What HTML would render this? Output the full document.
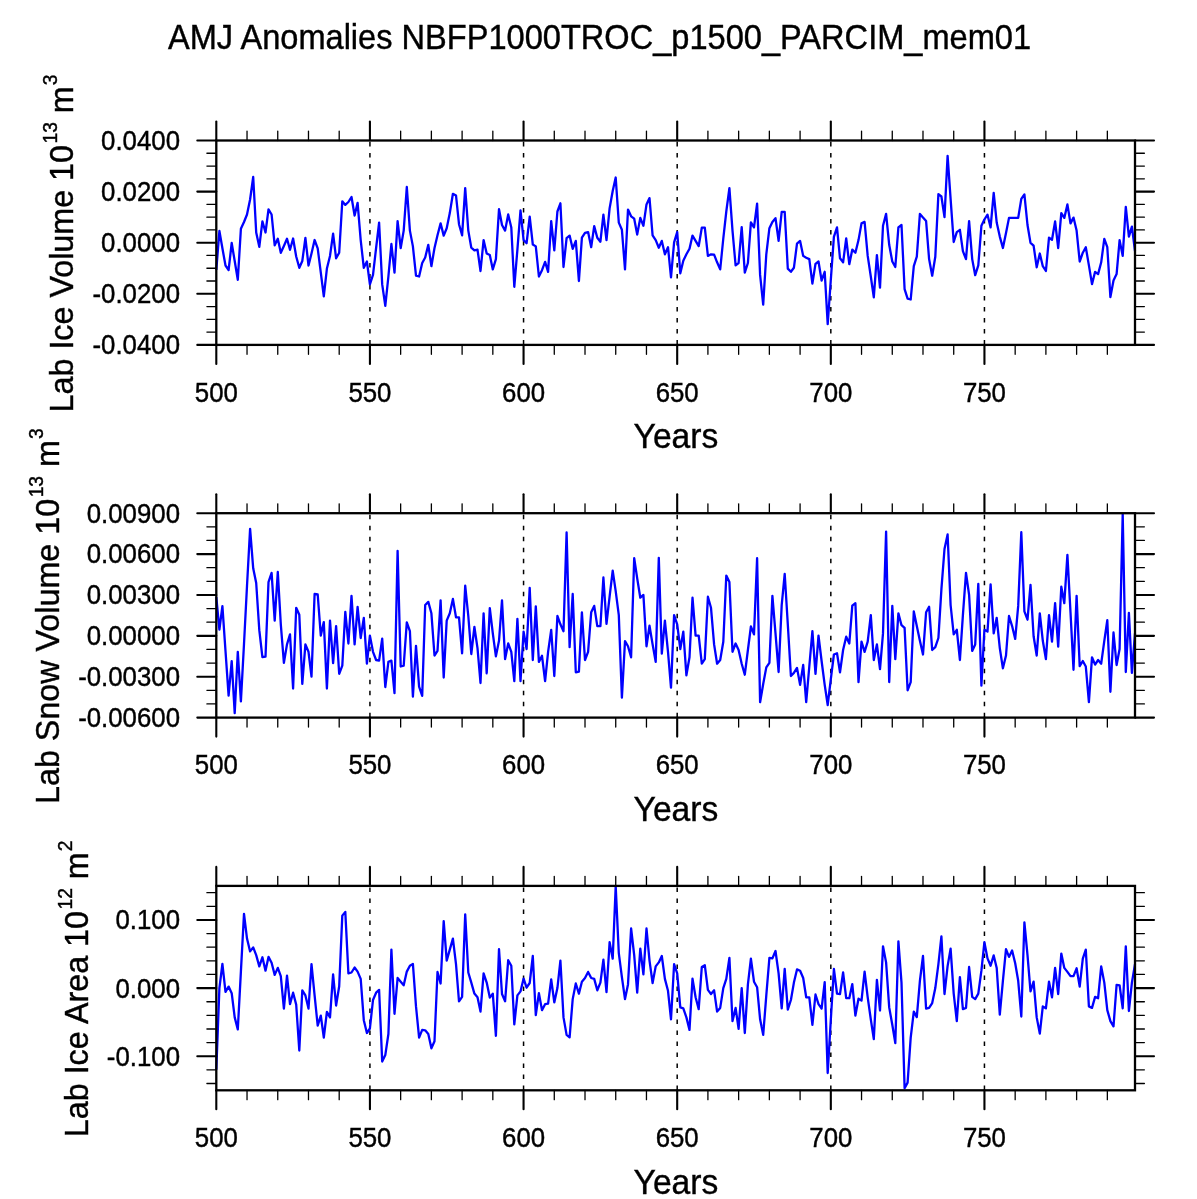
<!DOCTYPE html><html><head><meta charset="utf-8"><style>html,body{margin:0;padding:0;background:#fff;}svg{display:block;will-change:transform;}text{font-family:"Liberation Sans",sans-serif;fill:#000;stroke:#000;stroke-width:0.4px;}</style></head><body>
<svg width="1197" height="1199" viewBox="0 0 1197 1199">
<text transform="translate(168.0,48.8) scale(1,1.067)" font-size="32.59">AMJ Anomalies NBFP1000TROC_p1500_PARCIM_mem01</text>
<g><line x1="369.93" y1="142.00" x2="369.93" y2="344.90" stroke="#000" stroke-width="1.5" stroke-dasharray="4.6 6.4"/><line x1="523.56" y1="142.00" x2="523.56" y2="344.90" stroke="#000" stroke-width="1.5" stroke-dasharray="4.6 6.4"/><line x1="677.19" y1="142.00" x2="677.19" y2="344.90" stroke="#000" stroke-width="1.5" stroke-dasharray="4.6 6.4"/><line x1="830.82" y1="142.00" x2="830.82" y2="344.90" stroke="#000" stroke-width="1.5" stroke-dasharray="4.6 6.4"/><line x1="984.44" y1="142.00" x2="984.44" y2="344.90" stroke="#000" stroke-width="1.5" stroke-dasharray="4.6 6.4"/><polyline points="216.3,270.0 219.4,231.0 222.4,248.3 225.5,265.5 228.6,270.0 231.7,243.0 234.7,261.0 237.8,279.8 240.9,228.8 244.0,222.0 247.0,214.5 250.1,199.5 253.2,177.0 256.2,232.5 259.3,246.8 262.4,221.3 265.5,232.5 268.5,209.3 271.6,214.5 274.7,245.3 277.8,238.8 280.8,252.8 283.9,246.0 287.0,238.8 290.0,249.8 293.1,238.5 296.2,256.5 299.3,267.8 302.3,261.0 305.4,237.8 308.5,265.5 311.5,253.5 314.6,240.0 317.7,248.3 320.8,272.6 323.8,296.3 326.9,268.6 330.0,255.9 333.1,233.7 336.1,258.3 339.2,252.7 342.3,201.3 345.3,204.9 348.4,202.0 351.5,197.0 354.6,215.5 357.6,202.8 360.7,240.1 363.8,267.8 366.9,261.5 369.9,284.4 373.0,274.9 376.1,248.0 379.1,222.6 382.2,284.4 385.3,305.8 388.4,276.5 391.4,244.0 394.5,272.6 397.6,221.1 400.7,248.0 403.7,230.6 406.8,187.0 409.9,230.6 412.9,246.4 416.0,275.7 419.1,276.5 422.2,263.0 425.2,257.5 428.3,244.8 431.4,266.2 434.5,248.0 437.5,235.3 440.6,223.4 443.7,235.6 446.7,228.2 449.8,213.1 452.9,193.8 456.0,195.4 459.0,224.2 462.1,235.3 465.2,188.1 468.3,230.6 471.3,247.7 474.4,250.4 477.5,249.6 480.5,271.0 483.6,240.1 486.7,253.5 489.8,255.1 492.8,269.4 495.9,259.1 499.0,209.2 502.0,225.0 505.1,230.6 508.2,214.4 511.3,227.4 514.3,286.8 517.4,249.6 520.5,210.3 523.6,240.1 526.6,243.2 529.7,216.6 532.8,244.5 535.8,246.4 538.9,276.5 542.0,270.2 545.1,261.9 548.1,271.8 551.2,221.1 554.3,250.4 557.4,211.5 560.4,203.3 563.5,267.0 566.6,238.2 569.6,235.6 572.7,248.8 575.8,240.9 578.9,281.0 581.9,237.7 585.0,232.9 588.1,232.1 591.2,247.2 594.2,226.1 597.3,237.7 600.4,241.7 603.4,214.7 606.5,240.1 609.6,208.4 612.7,191.0 615.7,177.5 618.8,222.6 621.9,229.8 625.0,269.4 628.0,209.6 631.1,216.3 634.2,218.7 637.2,234.5 640.3,217.9 643.4,225.8 646.5,204.4 649.5,198.1 652.6,235.3 655.7,240.1 658.8,247.7 661.8,240.9 664.9,254.3 668.0,247.2 671.0,277.3 674.1,242.4 677.2,232.1 680.3,273.3 683.3,260.7 686.4,254.3 689.5,248.8 692.5,235.6 695.6,240.9 698.7,246.1 701.8,227.7 704.8,227.7 707.9,255.9 711.0,254.3 714.1,254.6 717.1,262.3 720.2,269.4 723.3,238.5 726.3,211.5 729.4,188.1 732.5,230.6 735.6,265.4 738.6,263.0 741.7,227.1 744.8,272.6 747.9,263.0 750.9,222.3 754.0,227.4 757.1,203.6 760.1,274.9 763.2,304.7 766.3,254.3 769.4,228.2 772.4,221.9 775.5,218.2 778.6,240.9 781.7,211.9 784.7,211.9 787.8,268.6 790.9,271.8 793.9,267.8 797.0,243.6 800.1,240.9 803.2,255.9 806.2,257.8 809.3,259.1 812.4,283.6 815.5,263.8 818.5,261.5 821.6,280.5 824.7,271.8 827.7,324.1 830.8,280.0 833.9,236.9 837.0,227.4 840.0,258.3 843.1,262.3 846.2,238.5 849.3,264.2 852.3,249.6 855.4,252.7 858.5,240.1 861.5,223.4 864.6,221.9 867.7,255.9 870.8,276.5 873.8,297.4 876.9,255.1 880.0,287.6 883.0,225.8 886.1,213.9 889.2,244.8 892.3,261.5 895.3,267.0 898.4,227.4 901.5,225.0 904.6,289.2 907.6,298.7 910.7,299.5 913.8,266.2 916.8,256.7 919.9,213.9 923.0,217.6 926.1,221.1 929.1,259.1 932.2,275.7 935.3,256.7 938.4,194.1 941.4,196.5 944.5,217.1 947.6,155.8 950.6,198.9 953.7,242.0 956.8,232.1 959.9,229.8 962.9,251.2 966.0,259.1 969.1,221.1 972.2,259.1 975.2,275.2 978.3,265.4 981.4,225.8 984.4,219.5 987.5,214.7 990.6,227.4 993.7,192.9 996.7,222.6 999.8,236.6 1002.9,248.0 1006.0,233.0 1009.0,217.9 1012.1,217.9 1015.2,217.9 1018.2,217.9 1021.3,198.9 1024.4,194.4 1027.5,225.0 1030.5,242.9 1033.6,245.6 1036.7,267.3 1039.8,253.5 1042.8,266.2 1045.9,271.0 1049.0,237.7 1052.0,239.8 1055.1,221.4 1058.2,248.0 1061.3,213.1 1064.3,217.9 1067.4,204.4 1070.5,223.4 1073.5,217.6 1076.6,230.6 1079.7,261.5 1082.8,252.7 1085.8,247.2 1088.9,265.4 1092.0,284.1 1095.1,271.8 1098.1,274.1 1101.2,262.3 1104.3,238.8 1107.3,247.2 1110.4,297.1 1113.5,280.5 1116.6,274.1 1119.6,240.1 1122.7,255.9 1125.8,206.8 1128.9,236.6 1131.9,226.6 1135.0,251.2" fill="none" stroke="#0000ff" stroke-width="2.3" stroke-linejoin="round"/><rect x="216.30" y="140.50" width="918.70" height="204.40" fill="none" stroke="#000" stroke-width="2.3"/><line x1="216.30" y1="121.50" x2="216.30" y2="140.50" stroke="#000" stroke-width="2.1" stroke-linecap="round"/><line x1="216.30" y1="344.90" x2="216.30" y2="363.90" stroke="#000" stroke-width="2.1" stroke-linecap="round"/><text transform="translate(216.30,401.50) scale(1,1.04)" font-size="25.8" text-anchor="middle">500</text><line x1="247.03" y1="131.10" x2="247.03" y2="140.50" stroke="#000" stroke-width="1.3" stroke-linecap="round"/><line x1="247.03" y1="344.90" x2="247.03" y2="354.30" stroke="#000" stroke-width="1.3" stroke-linecap="round"/><line x1="277.75" y1="131.10" x2="277.75" y2="140.50" stroke="#000" stroke-width="1.3" stroke-linecap="round"/><line x1="277.75" y1="344.90" x2="277.75" y2="354.30" stroke="#000" stroke-width="1.3" stroke-linecap="round"/><line x1="308.48" y1="131.10" x2="308.48" y2="140.50" stroke="#000" stroke-width="1.3" stroke-linecap="round"/><line x1="308.48" y1="344.90" x2="308.48" y2="354.30" stroke="#000" stroke-width="1.3" stroke-linecap="round"/><line x1="339.20" y1="131.10" x2="339.20" y2="140.50" stroke="#000" stroke-width="1.3" stroke-linecap="round"/><line x1="339.20" y1="344.90" x2="339.20" y2="354.30" stroke="#000" stroke-width="1.3" stroke-linecap="round"/><line x1="369.93" y1="121.50" x2="369.93" y2="140.50" stroke="#000" stroke-width="2.1" stroke-linecap="round"/><line x1="369.93" y1="344.90" x2="369.93" y2="363.90" stroke="#000" stroke-width="2.1" stroke-linecap="round"/><text transform="translate(369.93,401.50) scale(1,1.04)" font-size="25.8" text-anchor="middle">550</text><line x1="400.65" y1="131.10" x2="400.65" y2="140.50" stroke="#000" stroke-width="1.3" stroke-linecap="round"/><line x1="400.65" y1="344.90" x2="400.65" y2="354.30" stroke="#000" stroke-width="1.3" stroke-linecap="round"/><line x1="431.38" y1="131.10" x2="431.38" y2="140.50" stroke="#000" stroke-width="1.3" stroke-linecap="round"/><line x1="431.38" y1="344.90" x2="431.38" y2="354.30" stroke="#000" stroke-width="1.3" stroke-linecap="round"/><line x1="462.11" y1="131.10" x2="462.11" y2="140.50" stroke="#000" stroke-width="1.3" stroke-linecap="round"/><line x1="462.11" y1="344.90" x2="462.11" y2="354.30" stroke="#000" stroke-width="1.3" stroke-linecap="round"/><line x1="492.83" y1="131.10" x2="492.83" y2="140.50" stroke="#000" stroke-width="1.3" stroke-linecap="round"/><line x1="492.83" y1="344.90" x2="492.83" y2="354.30" stroke="#000" stroke-width="1.3" stroke-linecap="round"/><line x1="523.56" y1="121.50" x2="523.56" y2="140.50" stroke="#000" stroke-width="2.1" stroke-linecap="round"/><line x1="523.56" y1="344.90" x2="523.56" y2="363.90" stroke="#000" stroke-width="2.1" stroke-linecap="round"/><text transform="translate(523.56,401.50) scale(1,1.04)" font-size="25.8" text-anchor="middle">600</text><line x1="554.28" y1="131.10" x2="554.28" y2="140.50" stroke="#000" stroke-width="1.3" stroke-linecap="round"/><line x1="554.28" y1="344.90" x2="554.28" y2="354.30" stroke="#000" stroke-width="1.3" stroke-linecap="round"/><line x1="585.01" y1="131.10" x2="585.01" y2="140.50" stroke="#000" stroke-width="1.3" stroke-linecap="round"/><line x1="585.01" y1="344.90" x2="585.01" y2="354.30" stroke="#000" stroke-width="1.3" stroke-linecap="round"/><line x1="615.73" y1="131.10" x2="615.73" y2="140.50" stroke="#000" stroke-width="1.3" stroke-linecap="round"/><line x1="615.73" y1="344.90" x2="615.73" y2="354.30" stroke="#000" stroke-width="1.3" stroke-linecap="round"/><line x1="646.46" y1="131.10" x2="646.46" y2="140.50" stroke="#000" stroke-width="1.3" stroke-linecap="round"/><line x1="646.46" y1="344.90" x2="646.46" y2="354.30" stroke="#000" stroke-width="1.3" stroke-linecap="round"/><line x1="677.19" y1="121.50" x2="677.19" y2="140.50" stroke="#000" stroke-width="2.1" stroke-linecap="round"/><line x1="677.19" y1="344.90" x2="677.19" y2="363.90" stroke="#000" stroke-width="2.1" stroke-linecap="round"/><text transform="translate(677.19,401.50) scale(1,1.04)" font-size="25.8" text-anchor="middle">650</text><line x1="707.91" y1="131.10" x2="707.91" y2="140.50" stroke="#000" stroke-width="1.3" stroke-linecap="round"/><line x1="707.91" y1="344.90" x2="707.91" y2="354.30" stroke="#000" stroke-width="1.3" stroke-linecap="round"/><line x1="738.64" y1="131.10" x2="738.64" y2="140.50" stroke="#000" stroke-width="1.3" stroke-linecap="round"/><line x1="738.64" y1="344.90" x2="738.64" y2="354.30" stroke="#000" stroke-width="1.3" stroke-linecap="round"/><line x1="769.36" y1="131.10" x2="769.36" y2="140.50" stroke="#000" stroke-width="1.3" stroke-linecap="round"/><line x1="769.36" y1="344.90" x2="769.36" y2="354.30" stroke="#000" stroke-width="1.3" stroke-linecap="round"/><line x1="800.09" y1="131.10" x2="800.09" y2="140.50" stroke="#000" stroke-width="1.3" stroke-linecap="round"/><line x1="800.09" y1="344.90" x2="800.09" y2="354.30" stroke="#000" stroke-width="1.3" stroke-linecap="round"/><line x1="830.82" y1="121.50" x2="830.82" y2="140.50" stroke="#000" stroke-width="2.1" stroke-linecap="round"/><line x1="830.82" y1="344.90" x2="830.82" y2="363.90" stroke="#000" stroke-width="2.1" stroke-linecap="round"/><text transform="translate(830.82,401.50) scale(1,1.04)" font-size="25.8" text-anchor="middle">700</text><line x1="861.54" y1="131.10" x2="861.54" y2="140.50" stroke="#000" stroke-width="1.3" stroke-linecap="round"/><line x1="861.54" y1="344.90" x2="861.54" y2="354.30" stroke="#000" stroke-width="1.3" stroke-linecap="round"/><line x1="892.27" y1="131.10" x2="892.27" y2="140.50" stroke="#000" stroke-width="1.3" stroke-linecap="round"/><line x1="892.27" y1="344.90" x2="892.27" y2="354.30" stroke="#000" stroke-width="1.3" stroke-linecap="round"/><line x1="922.99" y1="131.10" x2="922.99" y2="140.50" stroke="#000" stroke-width="1.3" stroke-linecap="round"/><line x1="922.99" y1="344.90" x2="922.99" y2="354.30" stroke="#000" stroke-width="1.3" stroke-linecap="round"/><line x1="953.72" y1="131.10" x2="953.72" y2="140.50" stroke="#000" stroke-width="1.3" stroke-linecap="round"/><line x1="953.72" y1="344.90" x2="953.72" y2="354.30" stroke="#000" stroke-width="1.3" stroke-linecap="round"/><line x1="984.44" y1="121.50" x2="984.44" y2="140.50" stroke="#000" stroke-width="2.1" stroke-linecap="round"/><line x1="984.44" y1="344.90" x2="984.44" y2="363.90" stroke="#000" stroke-width="2.1" stroke-linecap="round"/><text transform="translate(984.44,401.50) scale(1,1.04)" font-size="25.8" text-anchor="middle">750</text><line x1="1015.17" y1="131.10" x2="1015.17" y2="140.50" stroke="#000" stroke-width="1.3" stroke-linecap="round"/><line x1="1015.17" y1="344.90" x2="1015.17" y2="354.30" stroke="#000" stroke-width="1.3" stroke-linecap="round"/><line x1="1045.90" y1="131.10" x2="1045.90" y2="140.50" stroke="#000" stroke-width="1.3" stroke-linecap="round"/><line x1="1045.90" y1="344.90" x2="1045.90" y2="354.30" stroke="#000" stroke-width="1.3" stroke-linecap="round"/><line x1="1076.62" y1="131.10" x2="1076.62" y2="140.50" stroke="#000" stroke-width="1.3" stroke-linecap="round"/><line x1="1076.62" y1="344.90" x2="1076.62" y2="354.30" stroke="#000" stroke-width="1.3" stroke-linecap="round"/><line x1="1107.35" y1="131.10" x2="1107.35" y2="140.50" stroke="#000" stroke-width="1.3" stroke-linecap="round"/><line x1="1107.35" y1="344.90" x2="1107.35" y2="354.30" stroke="#000" stroke-width="1.3" stroke-linecap="round"/><line x1="197.30" y1="344.90" x2="216.30" y2="344.90" stroke="#000" stroke-width="2.1" stroke-linecap="round"/><line x1="1135.00" y1="344.90" x2="1154.00" y2="344.90" stroke="#000" stroke-width="2.1" stroke-linecap="round"/><line x1="206.90" y1="332.12" x2="216.30" y2="332.12" stroke="#000" stroke-width="1.3" stroke-linecap="round"/><line x1="1135.00" y1="332.12" x2="1144.40" y2="332.12" stroke="#000" stroke-width="1.3" stroke-linecap="round"/><line x1="206.90" y1="319.35" x2="216.30" y2="319.35" stroke="#000" stroke-width="1.3" stroke-linecap="round"/><line x1="1135.00" y1="319.35" x2="1144.40" y2="319.35" stroke="#000" stroke-width="1.3" stroke-linecap="round"/><line x1="206.90" y1="306.57" x2="216.30" y2="306.57" stroke="#000" stroke-width="1.3" stroke-linecap="round"/><line x1="1135.00" y1="306.57" x2="1144.40" y2="306.57" stroke="#000" stroke-width="1.3" stroke-linecap="round"/><line x1="197.30" y1="293.80" x2="216.30" y2="293.80" stroke="#000" stroke-width="2.1" stroke-linecap="round"/><line x1="1135.00" y1="293.80" x2="1154.00" y2="293.80" stroke="#000" stroke-width="2.1" stroke-linecap="round"/><line x1="206.90" y1="281.02" x2="216.30" y2="281.02" stroke="#000" stroke-width="1.3" stroke-linecap="round"/><line x1="1135.00" y1="281.02" x2="1144.40" y2="281.02" stroke="#000" stroke-width="1.3" stroke-linecap="round"/><line x1="206.90" y1="268.25" x2="216.30" y2="268.25" stroke="#000" stroke-width="1.3" stroke-linecap="round"/><line x1="1135.00" y1="268.25" x2="1144.40" y2="268.25" stroke="#000" stroke-width="1.3" stroke-linecap="round"/><line x1="206.90" y1="255.47" x2="216.30" y2="255.47" stroke="#000" stroke-width="1.3" stroke-linecap="round"/><line x1="1135.00" y1="255.47" x2="1144.40" y2="255.47" stroke="#000" stroke-width="1.3" stroke-linecap="round"/><line x1="197.30" y1="242.70" x2="216.30" y2="242.70" stroke="#000" stroke-width="2.1" stroke-linecap="round"/><line x1="1135.00" y1="242.70" x2="1154.00" y2="242.70" stroke="#000" stroke-width="2.1" stroke-linecap="round"/><line x1="206.90" y1="229.92" x2="216.30" y2="229.92" stroke="#000" stroke-width="1.3" stroke-linecap="round"/><line x1="1135.00" y1="229.92" x2="1144.40" y2="229.92" stroke="#000" stroke-width="1.3" stroke-linecap="round"/><line x1="206.90" y1="217.15" x2="216.30" y2="217.15" stroke="#000" stroke-width="1.3" stroke-linecap="round"/><line x1="1135.00" y1="217.15" x2="1144.40" y2="217.15" stroke="#000" stroke-width="1.3" stroke-linecap="round"/><line x1="206.90" y1="204.37" x2="216.30" y2="204.37" stroke="#000" stroke-width="1.3" stroke-linecap="round"/><line x1="1135.00" y1="204.37" x2="1144.40" y2="204.37" stroke="#000" stroke-width="1.3" stroke-linecap="round"/><line x1="197.30" y1="191.60" x2="216.30" y2="191.60" stroke="#000" stroke-width="2.1" stroke-linecap="round"/><line x1="1135.00" y1="191.60" x2="1154.00" y2="191.60" stroke="#000" stroke-width="2.1" stroke-linecap="round"/><line x1="206.90" y1="178.82" x2="216.30" y2="178.82" stroke="#000" stroke-width="1.3" stroke-linecap="round"/><line x1="1135.00" y1="178.82" x2="1144.40" y2="178.82" stroke="#000" stroke-width="1.3" stroke-linecap="round"/><line x1="206.90" y1="166.05" x2="216.30" y2="166.05" stroke="#000" stroke-width="1.3" stroke-linecap="round"/><line x1="1135.00" y1="166.05" x2="1144.40" y2="166.05" stroke="#000" stroke-width="1.3" stroke-linecap="round"/><line x1="206.90" y1="153.27" x2="216.30" y2="153.27" stroke="#000" stroke-width="1.3" stroke-linecap="round"/><line x1="1135.00" y1="153.27" x2="1144.40" y2="153.27" stroke="#000" stroke-width="1.3" stroke-linecap="round"/><line x1="197.30" y1="140.50" x2="216.30" y2="140.50" stroke="#000" stroke-width="2.1" stroke-linecap="round"/><line x1="1135.00" y1="140.50" x2="1154.00" y2="140.50" stroke="#000" stroke-width="2.1" stroke-linecap="round"/><text transform="translate(180.0,149.90) scale(1,1.04)" font-size="25.8" text-anchor="end">0.0400</text><text transform="translate(180.0,201.00) scale(1,1.04)" font-size="25.8" text-anchor="end">0.0200</text><text transform="translate(180.0,252.10) scale(1,1.04)" font-size="25.8" text-anchor="end">0.0000</text><text transform="translate(180.0,303.20) scale(1,1.04)" font-size="25.8" text-anchor="end">-0.0200</text><text transform="translate(180.0,354.30) scale(1,1.04)" font-size="25.8" text-anchor="end">-0.0400</text><text transform="translate(633.6,448.10) scale(1,1.03)" font-size="33.6">Years</text><text transform="translate(73.4,243.50) rotate(-90) scale(1,1.05)" font-size="32.3" text-anchor="middle">Lab Ice Volume 10<tspan font-size="19.2" dx="1.5" dy="-15.4">13</tspan><tspan dy="15.4"> m</tspan><tspan font-size="19.2" dx="1" dy="-15.4">3</tspan></text></g>
<g><line x1="369.93" y1="514.70" x2="369.93" y2="717.60" stroke="#000" stroke-width="1.5" stroke-dasharray="4.6 6.4"/><line x1="523.56" y1="514.70" x2="523.56" y2="717.60" stroke="#000" stroke-width="1.5" stroke-dasharray="4.6 6.4"/><line x1="677.19" y1="514.70" x2="677.19" y2="717.60" stroke="#000" stroke-width="1.5" stroke-dasharray="4.6 6.4"/><line x1="830.82" y1="514.70" x2="830.82" y2="717.60" stroke="#000" stroke-width="1.5" stroke-dasharray="4.6 6.4"/><line x1="984.44" y1="514.70" x2="984.44" y2="717.60" stroke="#000" stroke-width="1.5" stroke-dasharray="4.6 6.4"/><polyline points="216.3,597.0 219.4,629.7 222.4,606.1 225.5,651.0 228.6,695.7 231.7,661.1 234.7,713.2 237.8,651.8 240.9,701.4 244.0,644.0 247.0,586.0 250.1,528.9 253.2,568.3 256.2,583.0 259.3,630.2 262.4,657.2 265.5,656.7 268.5,582.1 271.6,572.9 274.7,620.6 277.8,572.0 280.8,624.3 283.9,662.8 287.0,644.4 290.0,634.4 293.1,688.5 296.2,607.8 299.3,614.7 302.3,683.9 305.4,644.4 308.5,651.8 311.5,676.6 314.6,594.0 317.7,594.5 320.8,635.6 323.8,622.1 326.9,688.5 330.0,620.6 333.1,663.2 336.1,626.1 339.2,673.8 342.3,665.6 345.3,611.8 348.4,643.5 351.5,595.8 354.6,644.4 357.6,606.8 360.7,638.0 363.8,617.8 366.9,663.7 369.9,635.6 373.0,651.8 376.1,660.0 379.1,660.6 382.2,638.6 385.3,687.0 388.4,661.9 391.4,660.6 394.5,693.1 397.6,550.9 400.7,666.5 403.7,665.6 406.8,622.4 409.9,631.2 412.9,696.7 416.0,645.9 419.1,686.7 422.2,695.8 425.2,605.0 428.3,601.9 431.4,613.3 434.5,655.5 437.5,650.9 440.6,600.4 443.7,677.5 446.7,620.6 449.8,613.3 452.9,598.9 456.0,617.3 459.0,617.3 462.1,653.3 465.2,585.7 468.3,616.0 471.3,654.0 474.4,627.0 477.5,648.1 480.5,683.0 483.6,613.3 486.7,673.4 489.8,608.1 492.8,633.4 495.9,656.4 499.0,640.8 502.0,600.4 505.1,659.1 508.2,643.5 511.3,651.8 514.3,681.1 517.4,618.8 520.5,681.1 523.6,631.6 526.6,649.0 529.7,587.9 532.8,660.0 535.8,606.3 538.9,661.9 542.0,655.8 545.1,681.1 548.1,651.8 551.2,629.8 554.3,676.0 557.4,616.0 560.4,624.3 563.5,631.2 566.6,532.5 569.6,647.2 572.7,594.0 575.8,672.3 578.9,671.6 581.9,612.3 585.0,660.0 588.1,651.8 591.2,612.3 594.2,605.9 597.3,626.1 600.4,626.1 603.4,577.5 606.5,623.9 609.6,596.7 612.7,570.7 615.7,591.2 618.8,615.1 621.9,697.7 625.0,641.1 628.0,646.3 631.1,657.3 634.2,558.2 637.2,578.4 640.3,597.7 643.4,594.9 646.5,646.3 649.5,625.7 652.6,644.4 655.7,661.9 658.8,557.8 661.8,653.6 664.9,620.6 668.0,651.8 671.0,687.6 674.1,615.1 677.2,624.3 680.3,649.0 683.3,631.6 686.4,675.3 689.5,657.3 692.5,597.7 695.6,635.6 698.7,635.6 701.8,663.7 704.8,659.1 707.9,596.7 711.0,607.8 714.1,644.4 717.1,663.7 720.2,660.0 723.3,641.7 726.3,575.6 729.4,582.1 732.5,651.8 735.6,643.5 738.6,650.0 741.7,663.7 744.8,674.7 747.9,650.0 750.9,626.5 754.0,634.4 757.1,558.2 760.1,702.2 763.2,684.0 766.3,667.4 769.4,662.8 772.4,595.8 775.5,633.4 778.6,672.0 781.7,605.0 784.7,573.8 787.8,624.3 790.9,676.0 793.9,672.9 797.0,667.9 800.1,684.8 803.2,665.0 806.2,702.2 809.3,666.5 812.4,631.2 815.5,673.8 818.5,635.6 821.6,661.0 824.7,684.8 827.7,705.0 830.8,679.3 833.9,654.5 837.0,653.3 840.0,672.3 843.1,650.0 846.2,636.7 849.3,643.5 852.3,605.6 855.4,603.2 858.5,682.1 861.5,641.7 864.6,651.8 867.7,641.7 870.8,615.1 873.8,660.0 876.9,644.4 880.0,669.2 883.0,633.4 886.1,531.6 889.2,682.1 892.3,605.9 895.3,659.1 898.4,613.3 901.5,625.2 904.6,627.9 907.6,690.3 910.7,682.1 913.8,611.4 916.8,626.1 919.9,640.8 923.0,654.5 926.1,612.3 929.1,606.8 932.2,650.0 935.3,647.2 938.4,638.0 941.4,589.4 944.5,549.0 947.6,534.4 950.6,605.0 953.7,634.4 956.8,629.8 959.9,660.0 962.9,615.1 966.0,572.9 969.1,594.9 972.2,650.9 975.2,644.4 978.3,583.9 981.4,685.7 984.4,629.8 987.5,631.6 990.6,584.3 993.7,633.4 996.7,617.8 999.8,648.1 1002.9,668.3 1006.0,655.5 1009.0,616.0 1012.1,626.1 1015.2,638.9 1018.2,605.9 1021.3,532.2 1024.4,611.4 1027.5,619.7 1030.5,584.8 1033.6,636.2 1036.7,655.5 1039.8,613.3 1042.8,640.8 1045.9,659.1 1049.0,615.1 1052.0,641.7 1055.1,603.2 1058.2,646.7 1061.3,586.7 1064.3,603.2 1067.4,554.9 1070.5,612.3 1073.5,669.8 1076.6,595.8 1079.7,666.1 1082.8,661.0 1085.8,666.5 1088.9,702.2 1092.0,657.3 1095.1,664.6 1098.1,660.0 1101.2,663.7 1104.3,640.8 1107.3,620.2 1110.4,691.8 1113.5,632.5 1116.6,665.0 1119.6,649.0 1122.7,514.2 1125.8,672.0 1128.9,612.9 1131.9,672.9 1135.0,633.4" fill="none" stroke="#0000ff" stroke-width="2.3" stroke-linejoin="round"/><rect x="216.30" y="513.20" width="918.70" height="204.40" fill="none" stroke="#000" stroke-width="2.3"/><line x1="216.30" y1="494.20" x2="216.30" y2="513.20" stroke="#000" stroke-width="2.1" stroke-linecap="round"/><line x1="216.30" y1="717.60" x2="216.30" y2="736.60" stroke="#000" stroke-width="2.1" stroke-linecap="round"/><text transform="translate(216.30,774.20) scale(1,1.04)" font-size="25.8" text-anchor="middle">500</text><line x1="247.03" y1="503.80" x2="247.03" y2="513.20" stroke="#000" stroke-width="1.3" stroke-linecap="round"/><line x1="247.03" y1="717.60" x2="247.03" y2="727.00" stroke="#000" stroke-width="1.3" stroke-linecap="round"/><line x1="277.75" y1="503.80" x2="277.75" y2="513.20" stroke="#000" stroke-width="1.3" stroke-linecap="round"/><line x1="277.75" y1="717.60" x2="277.75" y2="727.00" stroke="#000" stroke-width="1.3" stroke-linecap="round"/><line x1="308.48" y1="503.80" x2="308.48" y2="513.20" stroke="#000" stroke-width="1.3" stroke-linecap="round"/><line x1="308.48" y1="717.60" x2="308.48" y2="727.00" stroke="#000" stroke-width="1.3" stroke-linecap="round"/><line x1="339.20" y1="503.80" x2="339.20" y2="513.20" stroke="#000" stroke-width="1.3" stroke-linecap="round"/><line x1="339.20" y1="717.60" x2="339.20" y2="727.00" stroke="#000" stroke-width="1.3" stroke-linecap="round"/><line x1="369.93" y1="494.20" x2="369.93" y2="513.20" stroke="#000" stroke-width="2.1" stroke-linecap="round"/><line x1="369.93" y1="717.60" x2="369.93" y2="736.60" stroke="#000" stroke-width="2.1" stroke-linecap="round"/><text transform="translate(369.93,774.20) scale(1,1.04)" font-size="25.8" text-anchor="middle">550</text><line x1="400.65" y1="503.80" x2="400.65" y2="513.20" stroke="#000" stroke-width="1.3" stroke-linecap="round"/><line x1="400.65" y1="717.60" x2="400.65" y2="727.00" stroke="#000" stroke-width="1.3" stroke-linecap="round"/><line x1="431.38" y1="503.80" x2="431.38" y2="513.20" stroke="#000" stroke-width="1.3" stroke-linecap="round"/><line x1="431.38" y1="717.60" x2="431.38" y2="727.00" stroke="#000" stroke-width="1.3" stroke-linecap="round"/><line x1="462.11" y1="503.80" x2="462.11" y2="513.20" stroke="#000" stroke-width="1.3" stroke-linecap="round"/><line x1="462.11" y1="717.60" x2="462.11" y2="727.00" stroke="#000" stroke-width="1.3" stroke-linecap="round"/><line x1="492.83" y1="503.80" x2="492.83" y2="513.20" stroke="#000" stroke-width="1.3" stroke-linecap="round"/><line x1="492.83" y1="717.60" x2="492.83" y2="727.00" stroke="#000" stroke-width="1.3" stroke-linecap="round"/><line x1="523.56" y1="494.20" x2="523.56" y2="513.20" stroke="#000" stroke-width="2.1" stroke-linecap="round"/><line x1="523.56" y1="717.60" x2="523.56" y2="736.60" stroke="#000" stroke-width="2.1" stroke-linecap="round"/><text transform="translate(523.56,774.20) scale(1,1.04)" font-size="25.8" text-anchor="middle">600</text><line x1="554.28" y1="503.80" x2="554.28" y2="513.20" stroke="#000" stroke-width="1.3" stroke-linecap="round"/><line x1="554.28" y1="717.60" x2="554.28" y2="727.00" stroke="#000" stroke-width="1.3" stroke-linecap="round"/><line x1="585.01" y1="503.80" x2="585.01" y2="513.20" stroke="#000" stroke-width="1.3" stroke-linecap="round"/><line x1="585.01" y1="717.60" x2="585.01" y2="727.00" stroke="#000" stroke-width="1.3" stroke-linecap="round"/><line x1="615.73" y1="503.80" x2="615.73" y2="513.20" stroke="#000" stroke-width="1.3" stroke-linecap="round"/><line x1="615.73" y1="717.60" x2="615.73" y2="727.00" stroke="#000" stroke-width="1.3" stroke-linecap="round"/><line x1="646.46" y1="503.80" x2="646.46" y2="513.20" stroke="#000" stroke-width="1.3" stroke-linecap="round"/><line x1="646.46" y1="717.60" x2="646.46" y2="727.00" stroke="#000" stroke-width="1.3" stroke-linecap="round"/><line x1="677.19" y1="494.20" x2="677.19" y2="513.20" stroke="#000" stroke-width="2.1" stroke-linecap="round"/><line x1="677.19" y1="717.60" x2="677.19" y2="736.60" stroke="#000" stroke-width="2.1" stroke-linecap="round"/><text transform="translate(677.19,774.20) scale(1,1.04)" font-size="25.8" text-anchor="middle">650</text><line x1="707.91" y1="503.80" x2="707.91" y2="513.20" stroke="#000" stroke-width="1.3" stroke-linecap="round"/><line x1="707.91" y1="717.60" x2="707.91" y2="727.00" stroke="#000" stroke-width="1.3" stroke-linecap="round"/><line x1="738.64" y1="503.80" x2="738.64" y2="513.20" stroke="#000" stroke-width="1.3" stroke-linecap="round"/><line x1="738.64" y1="717.60" x2="738.64" y2="727.00" stroke="#000" stroke-width="1.3" stroke-linecap="round"/><line x1="769.36" y1="503.80" x2="769.36" y2="513.20" stroke="#000" stroke-width="1.3" stroke-linecap="round"/><line x1="769.36" y1="717.60" x2="769.36" y2="727.00" stroke="#000" stroke-width="1.3" stroke-linecap="round"/><line x1="800.09" y1="503.80" x2="800.09" y2="513.20" stroke="#000" stroke-width="1.3" stroke-linecap="round"/><line x1="800.09" y1="717.60" x2="800.09" y2="727.00" stroke="#000" stroke-width="1.3" stroke-linecap="round"/><line x1="830.82" y1="494.20" x2="830.82" y2="513.20" stroke="#000" stroke-width="2.1" stroke-linecap="round"/><line x1="830.82" y1="717.60" x2="830.82" y2="736.60" stroke="#000" stroke-width="2.1" stroke-linecap="round"/><text transform="translate(830.82,774.20) scale(1,1.04)" font-size="25.8" text-anchor="middle">700</text><line x1="861.54" y1="503.80" x2="861.54" y2="513.20" stroke="#000" stroke-width="1.3" stroke-linecap="round"/><line x1="861.54" y1="717.60" x2="861.54" y2="727.00" stroke="#000" stroke-width="1.3" stroke-linecap="round"/><line x1="892.27" y1="503.80" x2="892.27" y2="513.20" stroke="#000" stroke-width="1.3" stroke-linecap="round"/><line x1="892.27" y1="717.60" x2="892.27" y2="727.00" stroke="#000" stroke-width="1.3" stroke-linecap="round"/><line x1="922.99" y1="503.80" x2="922.99" y2="513.20" stroke="#000" stroke-width="1.3" stroke-linecap="round"/><line x1="922.99" y1="717.60" x2="922.99" y2="727.00" stroke="#000" stroke-width="1.3" stroke-linecap="round"/><line x1="953.72" y1="503.80" x2="953.72" y2="513.20" stroke="#000" stroke-width="1.3" stroke-linecap="round"/><line x1="953.72" y1="717.60" x2="953.72" y2="727.00" stroke="#000" stroke-width="1.3" stroke-linecap="round"/><line x1="984.44" y1="494.20" x2="984.44" y2="513.20" stroke="#000" stroke-width="2.1" stroke-linecap="round"/><line x1="984.44" y1="717.60" x2="984.44" y2="736.60" stroke="#000" stroke-width="2.1" stroke-linecap="round"/><text transform="translate(984.44,774.20) scale(1,1.04)" font-size="25.8" text-anchor="middle">750</text><line x1="1015.17" y1="503.80" x2="1015.17" y2="513.20" stroke="#000" stroke-width="1.3" stroke-linecap="round"/><line x1="1015.17" y1="717.60" x2="1015.17" y2="727.00" stroke="#000" stroke-width="1.3" stroke-linecap="round"/><line x1="1045.90" y1="503.80" x2="1045.90" y2="513.20" stroke="#000" stroke-width="1.3" stroke-linecap="round"/><line x1="1045.90" y1="717.60" x2="1045.90" y2="727.00" stroke="#000" stroke-width="1.3" stroke-linecap="round"/><line x1="1076.62" y1="503.80" x2="1076.62" y2="513.20" stroke="#000" stroke-width="1.3" stroke-linecap="round"/><line x1="1076.62" y1="717.60" x2="1076.62" y2="727.00" stroke="#000" stroke-width="1.3" stroke-linecap="round"/><line x1="1107.35" y1="503.80" x2="1107.35" y2="513.20" stroke="#000" stroke-width="1.3" stroke-linecap="round"/><line x1="1107.35" y1="717.60" x2="1107.35" y2="727.00" stroke="#000" stroke-width="1.3" stroke-linecap="round"/><line x1="197.30" y1="717.60" x2="216.30" y2="717.60" stroke="#000" stroke-width="2.1" stroke-linecap="round"/><line x1="1135.00" y1="717.60" x2="1154.00" y2="717.60" stroke="#000" stroke-width="2.1" stroke-linecap="round"/><line x1="206.90" y1="703.97" x2="216.30" y2="703.97" stroke="#000" stroke-width="1.3" stroke-linecap="round"/><line x1="1135.00" y1="703.97" x2="1144.40" y2="703.97" stroke="#000" stroke-width="1.3" stroke-linecap="round"/><line x1="206.90" y1="690.35" x2="216.30" y2="690.35" stroke="#000" stroke-width="1.3" stroke-linecap="round"/><line x1="1135.00" y1="690.35" x2="1144.40" y2="690.35" stroke="#000" stroke-width="1.3" stroke-linecap="round"/><line x1="197.30" y1="676.72" x2="216.30" y2="676.72" stroke="#000" stroke-width="2.1" stroke-linecap="round"/><line x1="1135.00" y1="676.72" x2="1154.00" y2="676.72" stroke="#000" stroke-width="2.1" stroke-linecap="round"/><line x1="206.90" y1="663.09" x2="216.30" y2="663.09" stroke="#000" stroke-width="1.3" stroke-linecap="round"/><line x1="1135.00" y1="663.09" x2="1144.40" y2="663.09" stroke="#000" stroke-width="1.3" stroke-linecap="round"/><line x1="206.90" y1="649.47" x2="216.30" y2="649.47" stroke="#000" stroke-width="1.3" stroke-linecap="round"/><line x1="1135.00" y1="649.47" x2="1144.40" y2="649.47" stroke="#000" stroke-width="1.3" stroke-linecap="round"/><line x1="197.30" y1="635.84" x2="216.30" y2="635.84" stroke="#000" stroke-width="2.1" stroke-linecap="round"/><line x1="1135.00" y1="635.84" x2="1154.00" y2="635.84" stroke="#000" stroke-width="2.1" stroke-linecap="round"/><line x1="206.90" y1="622.21" x2="216.30" y2="622.21" stroke="#000" stroke-width="1.3" stroke-linecap="round"/><line x1="1135.00" y1="622.21" x2="1144.40" y2="622.21" stroke="#000" stroke-width="1.3" stroke-linecap="round"/><line x1="206.90" y1="608.59" x2="216.30" y2="608.59" stroke="#000" stroke-width="1.3" stroke-linecap="round"/><line x1="1135.00" y1="608.59" x2="1144.40" y2="608.59" stroke="#000" stroke-width="1.3" stroke-linecap="round"/><line x1="197.30" y1="594.96" x2="216.30" y2="594.96" stroke="#000" stroke-width="2.1" stroke-linecap="round"/><line x1="1135.00" y1="594.96" x2="1154.00" y2="594.96" stroke="#000" stroke-width="2.1" stroke-linecap="round"/><line x1="206.90" y1="581.33" x2="216.30" y2="581.33" stroke="#000" stroke-width="1.3" stroke-linecap="round"/><line x1="1135.00" y1="581.33" x2="1144.40" y2="581.33" stroke="#000" stroke-width="1.3" stroke-linecap="round"/><line x1="206.90" y1="567.71" x2="216.30" y2="567.71" stroke="#000" stroke-width="1.3" stroke-linecap="round"/><line x1="1135.00" y1="567.71" x2="1144.40" y2="567.71" stroke="#000" stroke-width="1.3" stroke-linecap="round"/><line x1="197.30" y1="554.08" x2="216.30" y2="554.08" stroke="#000" stroke-width="2.1" stroke-linecap="round"/><line x1="1135.00" y1="554.08" x2="1154.00" y2="554.08" stroke="#000" stroke-width="2.1" stroke-linecap="round"/><line x1="206.90" y1="540.45" x2="216.30" y2="540.45" stroke="#000" stroke-width="1.3" stroke-linecap="round"/><line x1="1135.00" y1="540.45" x2="1144.40" y2="540.45" stroke="#000" stroke-width="1.3" stroke-linecap="round"/><line x1="206.90" y1="526.83" x2="216.30" y2="526.83" stroke="#000" stroke-width="1.3" stroke-linecap="round"/><line x1="1135.00" y1="526.83" x2="1144.40" y2="526.83" stroke="#000" stroke-width="1.3" stroke-linecap="round"/><line x1="197.30" y1="513.20" x2="216.30" y2="513.20" stroke="#000" stroke-width="2.1" stroke-linecap="round"/><line x1="1135.00" y1="513.20" x2="1154.00" y2="513.20" stroke="#000" stroke-width="2.1" stroke-linecap="round"/><text transform="translate(180.0,522.60) scale(1,1.04)" font-size="25.8" text-anchor="end">0.00900</text><text transform="translate(180.0,563.48) scale(1,1.04)" font-size="25.8" text-anchor="end">0.00600</text><text transform="translate(180.0,604.36) scale(1,1.04)" font-size="25.8" text-anchor="end">0.00300</text><text transform="translate(180.0,645.24) scale(1,1.04)" font-size="25.8" text-anchor="end">0.00000</text><text transform="translate(180.0,686.12) scale(1,1.04)" font-size="25.8" text-anchor="end">-0.00300</text><text transform="translate(180.0,727.00) scale(1,1.04)" font-size="25.8" text-anchor="end">-0.00600</text><text transform="translate(633.6,820.80) scale(1,1.03)" font-size="33.6">Years</text><text transform="translate(59.1,616.20) rotate(-90) scale(1,1.05)" font-size="32.3" text-anchor="middle">Lab Snow Volume 10<tspan font-size="19.2" dx="1.5" dy="-15.4">13</tspan><tspan dy="15.4"> m</tspan><tspan font-size="19.2" dx="1" dy="-15.4">3</tspan></text></g>
<g><line x1="369.93" y1="887.40" x2="369.93" y2="1090.30" stroke="#000" stroke-width="1.5" stroke-dasharray="4.6 6.4"/><line x1="523.56" y1="887.40" x2="523.56" y2="1090.30" stroke="#000" stroke-width="1.5" stroke-dasharray="4.6 6.4"/><line x1="677.19" y1="887.40" x2="677.19" y2="1090.30" stroke="#000" stroke-width="1.5" stroke-dasharray="4.6 6.4"/><line x1="830.82" y1="887.40" x2="830.82" y2="1090.30" stroke="#000" stroke-width="1.5" stroke-dasharray="4.6 6.4"/><line x1="984.44" y1="887.40" x2="984.44" y2="1090.30" stroke="#000" stroke-width="1.5" stroke-dasharray="4.6 6.4"/><polyline points="216.3,1069.7 219.4,988.1 222.4,963.9 225.5,991.8 228.6,986.6 231.7,993.2 234.7,1017.4 237.8,1029.4 240.9,971.6 244.0,913.8 247.0,938.6 250.1,951.4 253.2,947.4 256.2,955.1 259.3,966.4 262.4,957.3 265.5,970.7 268.5,956.9 271.6,962.8 274.7,974.9 277.8,967.9 280.8,976.2 283.9,1008.6 287.0,975.6 290.0,1004.2 293.1,992.7 296.2,1004.6 299.3,1050.5 302.3,990.3 305.4,995.4 308.5,1008.6 311.5,964.2 314.6,995.4 317.7,1025.7 320.8,1015.6 323.8,1037.6 326.9,1011.9 330.0,1017.4 333.1,974.3 336.1,1005.5 339.2,986.3 342.3,915.6 345.3,911.9 348.4,973.4 351.5,972.5 354.6,967.5 357.6,971.6 360.7,978.9 363.8,1020.2 366.9,1033.0 369.9,1028.5 373.0,1000.0 376.1,992.7 379.1,989.9 382.2,1061.5 385.3,1055.1 388.4,1034.0 391.4,949.6 394.5,1013.8 397.6,978.0 400.7,981.7 403.7,985.3 406.8,971.6 409.9,965.7 412.9,963.9 416.0,1006.4 419.1,1037.6 422.2,1029.9 425.2,1030.3 428.3,1034.0 431.4,1048.3 434.5,1041.3 437.5,972.0 440.6,983.5 443.7,921.1 446.7,960.6 449.8,949.6 452.9,938.6 456.0,964.2 459.0,1001.3 462.1,996.9 465.2,914.3 468.3,972.5 471.3,982.6 474.4,993.6 477.5,997.3 480.5,1011.6 483.6,973.4 486.7,982.6 489.8,997.6 492.8,993.6 495.9,1035.8 499.0,949.2 502.0,994.0 505.1,1001.3 508.2,960.2 511.3,965.7 514.3,1024.4 517.4,995.4 520.5,991.4 523.6,978.6 526.6,987.7 529.7,983.0 532.8,956.0 535.8,1015.2 538.9,993.2 542.0,1010.1 545.1,1004.2 548.1,1003.7 551.2,979.3 554.3,1002.4 557.4,988.1 560.4,960.6 563.5,1017.4 566.6,1034.9 569.6,1037.3 572.7,999.1 575.8,983.5 578.9,993.6 581.9,981.7 585.0,978.0 588.1,971.9 591.2,978.0 594.2,978.9 597.3,990.3 600.4,982.6 603.4,959.7 606.5,992.1 609.6,942.2 612.7,958.7 615.7,886.3 618.8,953.2 621.9,977.1 625.0,999.1 628.0,984.4 631.1,928.5 634.2,955.1 637.2,992.7 640.3,948.6 643.4,974.3 646.5,928.5 649.5,960.6 652.6,983.0 655.7,966.4 658.8,962.4 661.8,956.0 664.9,978.9 668.0,990.8 671.0,1019.3 674.1,964.2 677.2,973.4 680.3,1007.4 683.3,1008.3 686.4,1017.4 689.5,1029.9 692.5,978.6 695.6,997.3 698.7,1009.2 701.8,967.0 704.8,965.2 707.9,989.9 711.0,994.0 714.1,990.3 717.1,1011.6 720.2,1007.9 723.3,988.1 726.3,978.9 729.4,957.8 732.5,1021.1 735.6,1007.9 738.6,1028.8 741.7,988.1 744.8,1033.0 747.9,984.4 750.9,958.7 754.0,981.7 757.1,987.2 760.1,1019.3 763.2,1034.9 766.3,995.4 769.4,957.8 772.4,958.4 775.5,951.0 778.6,973.4 781.7,1008.3 784.7,968.8 787.8,1009.7 790.9,1000.0 793.9,982.6 797.0,969.4 800.1,970.7 803.2,978.0 806.2,997.3 809.3,997.3 812.4,1024.8 815.5,994.5 818.5,1004.2 821.6,1008.6 824.7,982.2 827.7,1073.0 830.8,1020.0 833.9,969.0 837.0,993.6 840.0,994.0 843.1,972.5 846.2,998.2 849.3,998.2 852.3,984.1 855.4,1015.6 858.5,998.7 861.5,1000.6 864.6,971.6 867.7,997.3 870.8,1019.3 873.8,1039.1 876.9,979.8 880.0,1010.5 883.0,946.3 886.1,962.4 889.2,1007.4 892.3,1024.8 895.3,1043.1 898.4,941.3 901.5,982.6 904.6,1088.1 907.6,1082.6 910.7,1037.6 913.8,1011.6 916.8,1017.1 919.9,980.8 923.0,956.0 926.1,1008.6 929.1,1007.9 932.2,1003.1 935.3,988.1 938.4,964.2 941.4,936.3 944.5,994.0 947.6,966.1 950.6,948.6 953.7,993.6 956.8,1021.1 959.9,977.1 962.9,1009.2 966.0,1007.9 969.1,967.0 972.2,996.9 975.2,999.1 978.3,993.6 981.4,970.7 984.4,942.2 987.5,958.4 990.6,965.7 993.7,955.4 996.7,967.9 999.8,1014.7 1002.9,980.8 1006.0,949.2 1009.0,956.9 1012.1,950.5 1015.2,963.3 1018.2,980.8 1021.3,1016.5 1024.4,922.4 1027.5,955.1 1030.5,991.4 1033.6,981.7 1036.7,1017.4 1039.8,1033.6 1042.8,1006.4 1045.9,1008.3 1049.0,981.7 1052.0,997.3 1055.1,967.9 1058.2,994.0 1061.3,953.6 1064.3,967.9 1067.4,971.9 1070.5,976.2 1073.5,976.2 1076.6,968.3 1079.7,986.6 1082.8,958.7 1085.8,949.6 1088.9,1006.4 1092.0,1007.9 1095.1,996.9 1098.1,998.2 1101.2,966.4 1104.3,982.6 1107.3,1010.1 1110.4,1021.1 1113.5,1026.3 1116.6,984.8 1119.6,985.3 1122.7,1008.3 1125.8,946.3 1128.9,1011.0 1131.9,982.6 1135.0,964.2" fill="none" stroke="#0000ff" stroke-width="2.3" stroke-linejoin="round"/><rect x="216.30" y="885.90" width="918.70" height="204.40" fill="none" stroke="#000" stroke-width="2.3"/><line x1="216.30" y1="866.90" x2="216.30" y2="885.90" stroke="#000" stroke-width="2.1" stroke-linecap="round"/><line x1="216.30" y1="1090.30" x2="216.30" y2="1109.30" stroke="#000" stroke-width="2.1" stroke-linecap="round"/><text transform="translate(216.30,1146.90) scale(1,1.04)" font-size="25.8" text-anchor="middle">500</text><line x1="247.03" y1="876.50" x2="247.03" y2="885.90" stroke="#000" stroke-width="1.3" stroke-linecap="round"/><line x1="247.03" y1="1090.30" x2="247.03" y2="1099.70" stroke="#000" stroke-width="1.3" stroke-linecap="round"/><line x1="277.75" y1="876.50" x2="277.75" y2="885.90" stroke="#000" stroke-width="1.3" stroke-linecap="round"/><line x1="277.75" y1="1090.30" x2="277.75" y2="1099.70" stroke="#000" stroke-width="1.3" stroke-linecap="round"/><line x1="308.48" y1="876.50" x2="308.48" y2="885.90" stroke="#000" stroke-width="1.3" stroke-linecap="round"/><line x1="308.48" y1="1090.30" x2="308.48" y2="1099.70" stroke="#000" stroke-width="1.3" stroke-linecap="round"/><line x1="339.20" y1="876.50" x2="339.20" y2="885.90" stroke="#000" stroke-width="1.3" stroke-linecap="round"/><line x1="339.20" y1="1090.30" x2="339.20" y2="1099.70" stroke="#000" stroke-width="1.3" stroke-linecap="round"/><line x1="369.93" y1="866.90" x2="369.93" y2="885.90" stroke="#000" stroke-width="2.1" stroke-linecap="round"/><line x1="369.93" y1="1090.30" x2="369.93" y2="1109.30" stroke="#000" stroke-width="2.1" stroke-linecap="round"/><text transform="translate(369.93,1146.90) scale(1,1.04)" font-size="25.8" text-anchor="middle">550</text><line x1="400.65" y1="876.50" x2="400.65" y2="885.90" stroke="#000" stroke-width="1.3" stroke-linecap="round"/><line x1="400.65" y1="1090.30" x2="400.65" y2="1099.70" stroke="#000" stroke-width="1.3" stroke-linecap="round"/><line x1="431.38" y1="876.50" x2="431.38" y2="885.90" stroke="#000" stroke-width="1.3" stroke-linecap="round"/><line x1="431.38" y1="1090.30" x2="431.38" y2="1099.70" stroke="#000" stroke-width="1.3" stroke-linecap="round"/><line x1="462.11" y1="876.50" x2="462.11" y2="885.90" stroke="#000" stroke-width="1.3" stroke-linecap="round"/><line x1="462.11" y1="1090.30" x2="462.11" y2="1099.70" stroke="#000" stroke-width="1.3" stroke-linecap="round"/><line x1="492.83" y1="876.50" x2="492.83" y2="885.90" stroke="#000" stroke-width="1.3" stroke-linecap="round"/><line x1="492.83" y1="1090.30" x2="492.83" y2="1099.70" stroke="#000" stroke-width="1.3" stroke-linecap="round"/><line x1="523.56" y1="866.90" x2="523.56" y2="885.90" stroke="#000" stroke-width="2.1" stroke-linecap="round"/><line x1="523.56" y1="1090.30" x2="523.56" y2="1109.30" stroke="#000" stroke-width="2.1" stroke-linecap="round"/><text transform="translate(523.56,1146.90) scale(1,1.04)" font-size="25.8" text-anchor="middle">600</text><line x1="554.28" y1="876.50" x2="554.28" y2="885.90" stroke="#000" stroke-width="1.3" stroke-linecap="round"/><line x1="554.28" y1="1090.30" x2="554.28" y2="1099.70" stroke="#000" stroke-width="1.3" stroke-linecap="round"/><line x1="585.01" y1="876.50" x2="585.01" y2="885.90" stroke="#000" stroke-width="1.3" stroke-linecap="round"/><line x1="585.01" y1="1090.30" x2="585.01" y2="1099.70" stroke="#000" stroke-width="1.3" stroke-linecap="round"/><line x1="615.73" y1="876.50" x2="615.73" y2="885.90" stroke="#000" stroke-width="1.3" stroke-linecap="round"/><line x1="615.73" y1="1090.30" x2="615.73" y2="1099.70" stroke="#000" stroke-width="1.3" stroke-linecap="round"/><line x1="646.46" y1="876.50" x2="646.46" y2="885.90" stroke="#000" stroke-width="1.3" stroke-linecap="round"/><line x1="646.46" y1="1090.30" x2="646.46" y2="1099.70" stroke="#000" stroke-width="1.3" stroke-linecap="round"/><line x1="677.19" y1="866.90" x2="677.19" y2="885.90" stroke="#000" stroke-width="2.1" stroke-linecap="round"/><line x1="677.19" y1="1090.30" x2="677.19" y2="1109.30" stroke="#000" stroke-width="2.1" stroke-linecap="round"/><text transform="translate(677.19,1146.90) scale(1,1.04)" font-size="25.8" text-anchor="middle">650</text><line x1="707.91" y1="876.50" x2="707.91" y2="885.90" stroke="#000" stroke-width="1.3" stroke-linecap="round"/><line x1="707.91" y1="1090.30" x2="707.91" y2="1099.70" stroke="#000" stroke-width="1.3" stroke-linecap="round"/><line x1="738.64" y1="876.50" x2="738.64" y2="885.90" stroke="#000" stroke-width="1.3" stroke-linecap="round"/><line x1="738.64" y1="1090.30" x2="738.64" y2="1099.70" stroke="#000" stroke-width="1.3" stroke-linecap="round"/><line x1="769.36" y1="876.50" x2="769.36" y2="885.90" stroke="#000" stroke-width="1.3" stroke-linecap="round"/><line x1="769.36" y1="1090.30" x2="769.36" y2="1099.70" stroke="#000" stroke-width="1.3" stroke-linecap="round"/><line x1="800.09" y1="876.50" x2="800.09" y2="885.90" stroke="#000" stroke-width="1.3" stroke-linecap="round"/><line x1="800.09" y1="1090.30" x2="800.09" y2="1099.70" stroke="#000" stroke-width="1.3" stroke-linecap="round"/><line x1="830.82" y1="866.90" x2="830.82" y2="885.90" stroke="#000" stroke-width="2.1" stroke-linecap="round"/><line x1="830.82" y1="1090.30" x2="830.82" y2="1109.30" stroke="#000" stroke-width="2.1" stroke-linecap="round"/><text transform="translate(830.82,1146.90) scale(1,1.04)" font-size="25.8" text-anchor="middle">700</text><line x1="861.54" y1="876.50" x2="861.54" y2="885.90" stroke="#000" stroke-width="1.3" stroke-linecap="round"/><line x1="861.54" y1="1090.30" x2="861.54" y2="1099.70" stroke="#000" stroke-width="1.3" stroke-linecap="round"/><line x1="892.27" y1="876.50" x2="892.27" y2="885.90" stroke="#000" stroke-width="1.3" stroke-linecap="round"/><line x1="892.27" y1="1090.30" x2="892.27" y2="1099.70" stroke="#000" stroke-width="1.3" stroke-linecap="round"/><line x1="922.99" y1="876.50" x2="922.99" y2="885.90" stroke="#000" stroke-width="1.3" stroke-linecap="round"/><line x1="922.99" y1="1090.30" x2="922.99" y2="1099.70" stroke="#000" stroke-width="1.3" stroke-linecap="round"/><line x1="953.72" y1="876.50" x2="953.72" y2="885.90" stroke="#000" stroke-width="1.3" stroke-linecap="round"/><line x1="953.72" y1="1090.30" x2="953.72" y2="1099.70" stroke="#000" stroke-width="1.3" stroke-linecap="round"/><line x1="984.44" y1="866.90" x2="984.44" y2="885.90" stroke="#000" stroke-width="2.1" stroke-linecap="round"/><line x1="984.44" y1="1090.30" x2="984.44" y2="1109.30" stroke="#000" stroke-width="2.1" stroke-linecap="round"/><text transform="translate(984.44,1146.90) scale(1,1.04)" font-size="25.8" text-anchor="middle">750</text><line x1="1015.17" y1="876.50" x2="1015.17" y2="885.90" stroke="#000" stroke-width="1.3" stroke-linecap="round"/><line x1="1015.17" y1="1090.30" x2="1015.17" y2="1099.70" stroke="#000" stroke-width="1.3" stroke-linecap="round"/><line x1="1045.90" y1="876.50" x2="1045.90" y2="885.90" stroke="#000" stroke-width="1.3" stroke-linecap="round"/><line x1="1045.90" y1="1090.30" x2="1045.90" y2="1099.70" stroke="#000" stroke-width="1.3" stroke-linecap="round"/><line x1="1076.62" y1="876.50" x2="1076.62" y2="885.90" stroke="#000" stroke-width="1.3" stroke-linecap="round"/><line x1="1076.62" y1="1090.30" x2="1076.62" y2="1099.70" stroke="#000" stroke-width="1.3" stroke-linecap="round"/><line x1="1107.35" y1="876.50" x2="1107.35" y2="885.90" stroke="#000" stroke-width="1.3" stroke-linecap="round"/><line x1="1107.35" y1="1090.30" x2="1107.35" y2="1099.70" stroke="#000" stroke-width="1.3" stroke-linecap="round"/><line x1="206.90" y1="1083.49" x2="216.30" y2="1083.49" stroke="#000" stroke-width="1.3" stroke-linecap="round"/><line x1="1135.00" y1="1083.49" x2="1144.40" y2="1083.49" stroke="#000" stroke-width="1.3" stroke-linecap="round"/><line x1="206.90" y1="1069.86" x2="216.30" y2="1069.86" stroke="#000" stroke-width="1.3" stroke-linecap="round"/><line x1="1135.00" y1="1069.86" x2="1144.40" y2="1069.86" stroke="#000" stroke-width="1.3" stroke-linecap="round"/><line x1="197.30" y1="1056.23" x2="216.30" y2="1056.23" stroke="#000" stroke-width="2.1" stroke-linecap="round"/><line x1="1135.00" y1="1056.23" x2="1154.00" y2="1056.23" stroke="#000" stroke-width="2.1" stroke-linecap="round"/><line x1="206.90" y1="1042.61" x2="216.30" y2="1042.61" stroke="#000" stroke-width="1.3" stroke-linecap="round"/><line x1="1135.00" y1="1042.61" x2="1144.40" y2="1042.61" stroke="#000" stroke-width="1.3" stroke-linecap="round"/><line x1="206.90" y1="1028.98" x2="216.30" y2="1028.98" stroke="#000" stroke-width="1.3" stroke-linecap="round"/><line x1="1135.00" y1="1028.98" x2="1144.40" y2="1028.98" stroke="#000" stroke-width="1.3" stroke-linecap="round"/><line x1="206.90" y1="1015.35" x2="216.30" y2="1015.35" stroke="#000" stroke-width="1.3" stroke-linecap="round"/><line x1="1135.00" y1="1015.35" x2="1144.40" y2="1015.35" stroke="#000" stroke-width="1.3" stroke-linecap="round"/><line x1="206.90" y1="1001.73" x2="216.30" y2="1001.73" stroke="#000" stroke-width="1.3" stroke-linecap="round"/><line x1="1135.00" y1="1001.73" x2="1144.40" y2="1001.73" stroke="#000" stroke-width="1.3" stroke-linecap="round"/><line x1="197.30" y1="988.10" x2="216.30" y2="988.10" stroke="#000" stroke-width="2.1" stroke-linecap="round"/><line x1="1135.00" y1="988.10" x2="1154.00" y2="988.10" stroke="#000" stroke-width="2.1" stroke-linecap="round"/><line x1="206.90" y1="974.47" x2="216.30" y2="974.47" stroke="#000" stroke-width="1.3" stroke-linecap="round"/><line x1="1135.00" y1="974.47" x2="1144.40" y2="974.47" stroke="#000" stroke-width="1.3" stroke-linecap="round"/><line x1="206.90" y1="960.85" x2="216.30" y2="960.85" stroke="#000" stroke-width="1.3" stroke-linecap="round"/><line x1="1135.00" y1="960.85" x2="1144.40" y2="960.85" stroke="#000" stroke-width="1.3" stroke-linecap="round"/><line x1="206.90" y1="947.22" x2="216.30" y2="947.22" stroke="#000" stroke-width="1.3" stroke-linecap="round"/><line x1="1135.00" y1="947.22" x2="1144.40" y2="947.22" stroke="#000" stroke-width="1.3" stroke-linecap="round"/><line x1="206.90" y1="933.59" x2="216.30" y2="933.59" stroke="#000" stroke-width="1.3" stroke-linecap="round"/><line x1="1135.00" y1="933.59" x2="1144.40" y2="933.59" stroke="#000" stroke-width="1.3" stroke-linecap="round"/><line x1="197.30" y1="919.97" x2="216.30" y2="919.97" stroke="#000" stroke-width="2.1" stroke-linecap="round"/><line x1="1135.00" y1="919.97" x2="1154.00" y2="919.97" stroke="#000" stroke-width="2.1" stroke-linecap="round"/><line x1="206.90" y1="906.34" x2="216.30" y2="906.34" stroke="#000" stroke-width="1.3" stroke-linecap="round"/><line x1="1135.00" y1="906.34" x2="1144.40" y2="906.34" stroke="#000" stroke-width="1.3" stroke-linecap="round"/><line x1="206.90" y1="892.71" x2="216.30" y2="892.71" stroke="#000" stroke-width="1.3" stroke-linecap="round"/><line x1="1135.00" y1="892.71" x2="1144.40" y2="892.71" stroke="#000" stroke-width="1.3" stroke-linecap="round"/><text transform="translate(180.0,929.37) scale(1,1.04)" font-size="25.8" text-anchor="end">0.100</text><text transform="translate(180.0,997.50) scale(1,1.04)" font-size="25.8" text-anchor="end">0.000</text><text transform="translate(180.0,1065.63) scale(1,1.04)" font-size="25.8" text-anchor="end">-0.100</text><text transform="translate(633.6,1193.50) scale(1,1.03)" font-size="33.6">Years</text><text transform="translate(87.9,988.90) rotate(-90) scale(1,1.05)" font-size="32.3" text-anchor="middle">Lab Ice Area 10<tspan font-size="19.2" dx="1.5" dy="-15.4">12</tspan><tspan dy="15.4"> m</tspan><tspan font-size="19.2" dx="1" dy="-15.4">2</tspan></text></g>
</svg></body></html>
